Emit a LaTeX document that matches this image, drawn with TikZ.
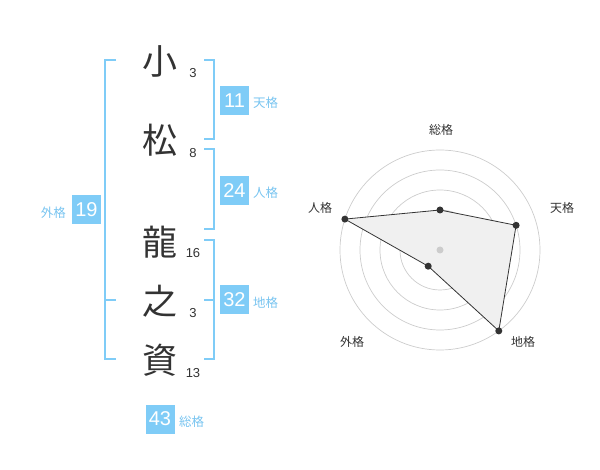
\documentclass[tikz,border=0pt]{standalone}
\usepackage{fontspec}
\usetikzlibrary{calc}
\setmainfont{Liberation Sans}
\newfontfamily\cjk{Noto Sans CJK JP}
\definecolor{boxblue}{RGB}{127,204,247}
\definecolor{lblblue}{RGB}{120,196,240}
\definecolor{ink}{RGB}{51,51,51}
\definecolor{ringgray}{RGB}{204,204,204}
\definecolor{areagray}{RGB}{240,240,240}
\begin{document}
\begin{tikzpicture}[x=1pt,y=-1pt,
  kanji/.style={font=\cjk\fontsize{35}{35}\selectfont, text=ink, inner sep=0pt},
  strokenum/.style={font=\fontsize{13}{13}\selectfont, text=ink, inner sep=0pt},
  numbox/.style={fill=boxblue, text=white, minimum width=29pt, minimum height=29pt, inner sep=0pt, font=\fontsize{20}{20}\selectfont},
  kakulbl/.style={text=lblblue, font=\cjk\fontsize{12.5}{12.5}\selectfont, inner sep=0pt},
  bracketline/.style={draw=boxblue, line width=2pt},
  ring/.style={draw=ringgray, line width=0.7pt},
  axislbl/.style={text=ink, font=\cjk\fontsize{12}{12}\selectfont, inner sep=0pt},
  dot/.style={circle, fill=ink, minimum size=7pt, inner sep=0pt}]
\useasboundingbox (0,0) rectangle (600,470);

% brackets
\draw[bracketline] (116,60) -- (105,60) -- (105,359) -- (116,359);
\draw[bracketline] (105,300) -- (116,300);
\draw[bracketline] (204,60) -- (214,60) -- (214,139) -- (204,139);
\draw[bracketline] (204,149) -- (214,149) -- (214,229) -- (204,229);
\draw[bracketline] (204,240) -- (214,240) -- (214,359) -- (204,359);
\draw[bracketline] (204,300) -- (214,300);

% name characters
\node[kanji] (k1) at (160,61) {小};
\node[kanji] (k2) at (160,140) {松};
\node[kanji] (k3) at (160,242) {龍};
\node[kanji] (k4) at (160,301) {之};
\node[kanji] (k5) at (160,360) {資};

\node[strokenum] (s1) at (193,73) {3};
\node[strokenum] (s2) at (193,153) {8};
\node[strokenum] (s3) at (193,253) {16};
\node[strokenum] (s4) at (193,313) {3};
\node[strokenum] (s5) at (193,373) {13};

% number boxes
\node[numbox] (ten) at (234.5,100.5) {11};
\node[kakulbl, anchor=west] (tenl) at (253,103) {天格};
\node[numbox] (jin) at (234.5,190.5) {24};
\node[kakulbl, anchor=west] (jinl) at (253,193) {人格};
\node[numbox] (chi) at (234.5,300) {32};
\node[kakulbl, anchor=west] (chil) at (253,303) {地格};
\node[numbox] (gai) at (86.5,210) {19};
\node[kakulbl, anchor=east] (gail) at (66,213) {外格};
\node[numbox] (sou) at (160,419) {43};
\node[kakulbl, anchor=west] (soul) at (179,422) {総格};

% radar chart
\coordinate (c) at (440,250);
\foreach \r in {20,40,60,80,100} \draw[ring] (c) circle[radius=\r pt];
\coordinate (pS) at ($(c)+(0,-40)$);
\coordinate (pT) at ($(c)+(76.1,-24.7)$);
\coordinate (pC) at ($(c)+(58.8,80.9)$);
\coordinate (pG) at ($(c)+(-11.8,16.2)$);
\coordinate (pJ) at ($(c)+(-95.1,-30.9)$);
\filldraw[fill=areagray, draw=ink, line width=0.8pt] (pS) -- (pT) -- (pC) -- (pG) -- (pJ) -- cycle;
\fill[ringgray] (c) circle[radius=3.5pt];
\foreach \p in {pS,pT,pC,pG,pJ} \node[dot] at (\p) {};

\node[axislbl] (aS) at (441,130) {総格};
\node[axislbl] (aT) at (562,208) {天格};
\node[axislbl] (aC) at (523,342) {地格};
\node[axislbl] (aG) at (352,342) {外格};
\node[axislbl] (aJ) at (320,208) {人格};
\end{tikzpicture}
\end{document}
